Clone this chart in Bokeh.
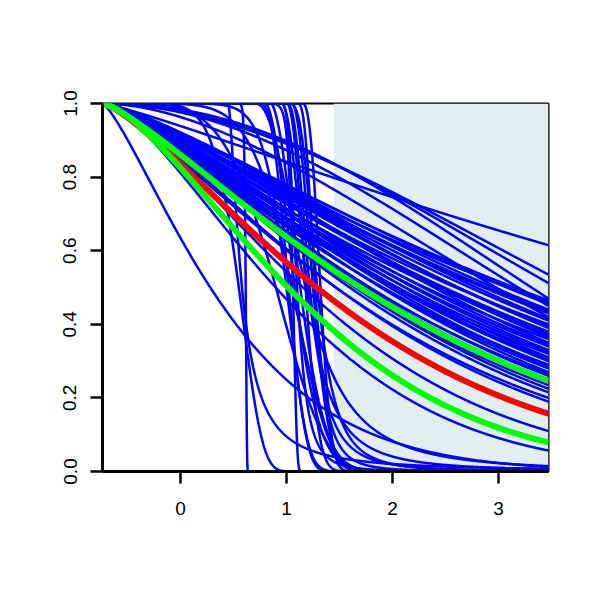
import numpy as np
from bokeh.plotting import figure
from bokeh.models import FixedTicker, Range1d
from bokeh.embed import file_html
from bokeh.resources import INLINE

# ---- data ----
x_min, x_max = -0.736, 3.472
shade_from = 1.446
x_ticks = [0, 1, 2, 3]
y_ticks = [0.0, 0.2, 0.4, 0.6, 0.8, 1.0]

# slowly falling blue curves: value reached at the right edge and shape
bundle_end = [0.615, 0.535, 0.512, 0.47, 0.465, 0.46, 0.455, 0.45, 0.44, 0.435, 0.43, 0.42,
              0.415, 0.41, 0.40, 0.395, 0.39, 0.38, 0.375, 0.37, 0.365, 0.36, 0.35, 0.345, 0.34,
              0.33, 0.325, 0.32, 0.31, 0.305, 0.30, 0.29, 0.285, 0.28, 0.27, 0.265, 0.26, 0.25,
              0.235, 0.225, 0.215, 0.20, 0.19, 0.11, 0.057]
bundle_shape = [1.17, 1.9, 2.0, 2.2, 1.25, 1.2, 1.3, 2.0, 1.3, 1.25, 1.25, 1.8, 1.35, 1.3,
                1.2, 1.3, 1.35, 1.25, 1.2, 1.3, 1.35, 1.2, 1.4, 1.3, 1.25, 1.3, 1.25, 1.2, 1.35,
                1.3, 1.3, 1.25, 1.35, 1.3, 1.35, 1.25, 1.3, 1.3, 1.3, 1.35, 1.35, 1.3, 1.35, 1.45,
                1.5]

# falling blue curves: start x, x where the curve is at ref_y, shape, family (w Weibull, ll log-logistic)
drop_start = [-0.736, -0.736, -0.736, 0.45, -0.736, -0.736, 0.75, -0.736, 0.95, 1.00, 1.05,
              1.10, 1.00, 0.85, 1.15, 0.95, -0.736, 0.70, 1.02, 0.80]
drop_ref_x = [0.304, 0.615, 0.55, 0.58, 0.90, 1.05, 1.02, 1.06, 1.10, 1.18, 1.25,
              1.27, 1.22, 1.13, 1.32, 1.20, 1.00, 1.18, 1.29, 1.08]
drop_ref_y = [0.49] + [0.5] * 19
drop_shape = [1.3, 150, 8, 1.56, 5, 7, 2.5, 60, 3.0, 2.2, 2.0, 3.0, 2.6, 1.8, 2.5, 2.2, 12, 2.4,
              3.0, 1.8]
drop_family = ["w", "w", "w", "ll", "w", "w", "w", "w", "ll", "w", "w", "ll", "ll", "w", "w",
               "ll", "w", "ll", "ll", "w"]

red_end, red_shape = 0.157, 1.34
green_end = [0.247, 0.079]
green_shape = [1.28, 1.48]


def survival(xs, start, ref_x, ref_y, k, fam):
    d = np.clip(xs - start, 0, None)
    dr = ref_x - start
    if fam == "w":
        lam = dr / (-np.log(ref_y)) ** (1.0 / k)
        return np.exp(-(d / lam) ** k)
    alpha = dr / ((1.0 / ref_y - 1.0) ** (1.0 / k))
    return 1.0 / (1.0 + (d / alpha) ** k)


xs = np.linspace(x_min, x_max, 1500)

p = figure(frame_width=446, frame_height=368, min_border_left=102, min_border_top=103,
           min_border_right=40, min_border_bottom=110, output_backend="svg",
           toolbar_location=None, x_range=Range1d(x_min, x_max), y_range=Range1d(0, 1))
p.background_fill_color = "white"
p.border_fill_color = "white"
p.grid.visible = False
p.outline_line_color = "black"
p.outline_line_width = 2

p.quad(left=[shade_from], right=[x_max], bottom=[0], top=[1], fill_color="#E0EEEE", line_color=None)

for e, k in zip(bundle_end, bundle_shape):
    p.line(xs, survival(xs, x_min, x_max, e, k, "w"), line_color="#0000FF", line_width=2.5)
for i in range(len(drop_start)):
    ys = survival(xs, drop_start[i], drop_ref_x[i], drop_ref_y[i], drop_shape[i], drop_family[i])
    p.line(xs, ys, line_color="#0000FF", line_width=2.5)

p.line(xs, survival(xs, x_min, x_max, red_end, red_shape, "w"), line_color="#FF0000", line_width=6)
for e, k in zip(green_end, green_shape):
    p.line(xs, survival(xs, x_min, x_max, e, k, "w"), line_color="#00FF00", line_width=6)

for ax in (p.xaxis[0], p.yaxis[0]):
    ax.axis_line_width = 3
    ax.axis_line_color = "black"
    ax.major_tick_line_width = 2.5
    ax.major_tick_out = 12
    ax.major_tick_in = 0
    ax.minor_tick_line_color = None
    ax.major_label_text_font = "Liberation Sans"
    ax.major_label_text_font_size = "19px"
    ax.major_label_text_color = "black"

p.xaxis.ticker = FixedTicker(ticks=x_ticks)
p.yaxis.ticker = FixedTicker(ticks=y_ticks)
p.xaxis.major_label_overrides = {t: str(t) for t in x_ticks}
p.yaxis.major_label_overrides = {t: "%.1f" % t for t in y_ticks}
p.xaxis.major_label_standoff = 18
p.yaxis.major_label_standoff = 14
p.yaxis.major_label_orientation = "vertical"

open("out.html", "w").write(file_html(p, INLINE))
